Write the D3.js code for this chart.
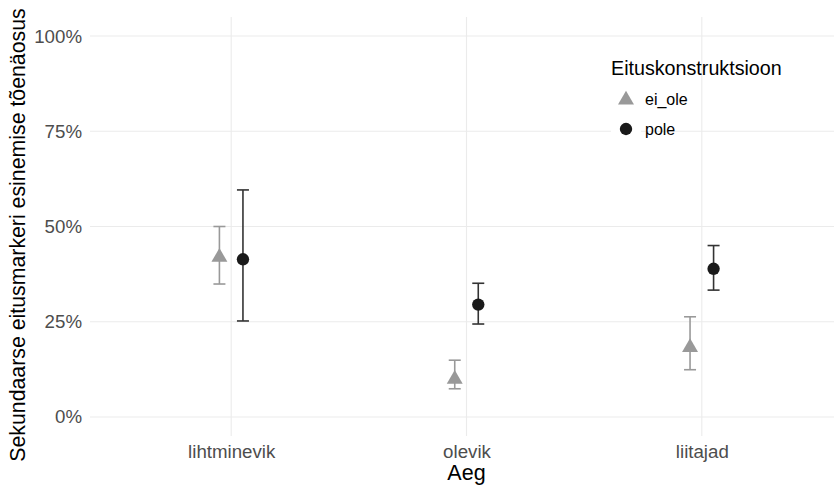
<!DOCTYPE html>
<html>
<head>
<meta charset="utf-8">
<script src="https://cdn.jsdelivr.net/npm/d3@7"></script>
<style>
  body { margin: 0; background: #fff; }
  svg { display: block; font-family: "Liberation Sans", Arial, sans-serif; }
</style>
</head>
<body>
<svg id="chart" width="834" height="485"></svg>
<script>
// Time categories and the two negation constructions
const categories = ["lihtminevik", "olevik", "liitajad"];
const seriesNames = ["ei_ole", "pole"];

// Estimated probabilities with confidence intervals, per category
const eiOleEstimate = [0.422, 0.102, 0.185];
const eiOleLower    = [0.349, 0.074, 0.124];
const eiOleUpper    = [0.500, 0.149, 0.263];

const poleEstimate  = [0.414, 0.295, 0.389];
const poleLower     = [0.252, 0.244, 0.333];
const poleUpper     = [0.596, 0.351, 0.450];

const yTicks = [0, 0.25, 0.5, 0.75, 1];

const series = [
  { name: "ei_ole", est: eiOleEstimate, lo: eiOleLower, hi: eiOleUpper,
    fill: "#999999", bar: "#999999", shape: "triangle" },
  { name: "pole", est: poleEstimate, lo: poleLower, hi: poleUpper,
    fill: "#1a1a1a", bar: "#333333", shape: "circle" }
];

const svg = d3.select("#chart");
const panel = { left: 90, right: 843, top: 17, bottom: 436 };

// discrete x axis with 0.6 unit padding on each side
const x = d3.scalePoint()
  .domain(categories)
  .range([panel.left, panel.right])
  .padding(0.6);
const step = x.step();

const dodge = d3.scalePoint()
  .domain(seriesNames)
  .range([-0.05 * step, 0.05 * step]);

// continuous y axis, 0..1 with 5% expansion
const y = d3.scaleLinear()
  .domain([-0.05, 1.05])
  .range([panel.bottom, panel.top]);

const grid = svg.append("g");
grid.selectAll("line.h").data(yTicks).join("line")
  .attr("x1", panel.left).attr("x2", panel.right)
  .attr("y1", d => y(d)).attr("y2", d => y(d))
  .attr("stroke", "#ebebeb").attr("stroke-width", 1.1);
grid.selectAll("line.v").data(categories).join("line")
  .attr("x1", d => x(d)).attr("x2", d => x(d))
  .attr("y1", panel.top).attr("y2", panel.bottom)
  .attr("stroke", "#ebebeb").attr("stroke-width", 1.1);

// axes: text only, no domain line or ticks
const yAxis = svg.append("g")
  .attr("transform", `translate(${panel.left},0)`)
  .call(d3.axisLeft(y).tickValues(yTicks).tickFormat(d3.format(".0%")).tickSize(0).tickPadding(8));
yAxis.select(".domain").remove();
yAxis.selectAll("text").attr("font-size", 18.7).attr("fill", "#4d4d4d")
  .attr("font-family", "Liberation Sans, Arial, sans-serif");

const xAxis = svg.append("g")
  .attr("transform", `translate(0,${panel.bottom})`)
  .call(d3.axisBottom(x).tickSize(0).tickPadding(9));
xAxis.select(".domain").remove();
xAxis.selectAll("text").attr("font-size", 18.7).attr("fill", "#4d4d4d")
  .attr("font-family", "Liberation Sans, Arial, sans-serif");

// axis titles
svg.append("text")
  .attr("x", (panel.left + panel.right) / 2).attr("y", 480)
  .attr("text-anchor", "middle").attr("font-size", 21.5).attr("fill", "#000")
  .text("Aeg");
svg.append("text")
  .attr("transform", `translate(25,235) rotate(-90)`)
  .attr("text-anchor", "middle").attr("font-size", 21.3).attr("fill", "#000")
  .text("Sekundaarse eitusmarkeri esinemise tõenäosus");

const triangle = d3.symbol().type(d3.symbolTriangle).size(110);
const circle = d3.symbol().type(d3.symbolCircle).size(120);

const marks = svg.append("g");
series.forEach(s => {
  const g = marks.append("g");
  const rows = categories.map((c, i) => ({ c, est: s.est[i], lo: s.lo[i], hi: s.hi[i] }));
  const cx = d => x(d.c) + dodge(s.name);
  const cap = 6;
  g.selectAll("line.stem").data(rows).join("line")
    .attr("x1", cx).attr("x2", cx)
    .attr("y1", d => y(d.lo)).attr("y2", d => y(d.hi))
    .attr("stroke", s.bar).attr("stroke-width", 1.6);
  g.selectAll("line.top").data(rows).join("line")
    .attr("x1", d => cx(d) - cap).attr("x2", d => cx(d) + cap)
    .attr("y1", d => y(d.hi)).attr("y2", d => y(d.hi))
    .attr("stroke", s.bar).attr("stroke-width", 1.6);
  g.selectAll("line.bot").data(rows).join("line")
    .attr("x1", d => cx(d) - cap).attr("x2", d => cx(d) + cap)
    .attr("y1", d => y(d.lo)).attr("y2", d => y(d.lo))
    .attr("stroke", s.bar).attr("stroke-width", 1.6);
  g.selectAll("path").data(rows).join("path")
    .attr("transform", d => `translate(${cx(d)},${y(d.est) + (s.shape === "triangle" ? 1 : 0)})`)
    .attr("d", s.shape === "triangle" ? triangle : circle)
    .attr("fill", s.fill);
});

// legend
const legend = svg.append("g").attr("transform", "translate(611,0)");
legend.append("text").attr("x", 0).attr("y", 75)
  .attr("font-size", 19.7).attr("fill", "#000").text("Eituskonstruktsioon");
series.forEach((s, i) => {
  const cy = 99 + i * 30;
  legend.append("rect").attr("x", 0).attr("y", cy - 15).attr("width", 30).attr("height", 30)
    .attr("fill", "#fff");
  legend.append("path")
    .attr("transform", `translate(15,${cy + (s.shape === "triangle" ? 1 : 0)})`)
    .attr("d", s.shape === "triangle" ? triangle : circle)
    .attr("fill", s.fill);
  legend.append("text").attr("x", 34).attr("y", cy).attr("dy", "0.35em")
    .attr("font-size", 16).attr("fill", "#000").text(s.name);
});
</script>
</body>
</html>
